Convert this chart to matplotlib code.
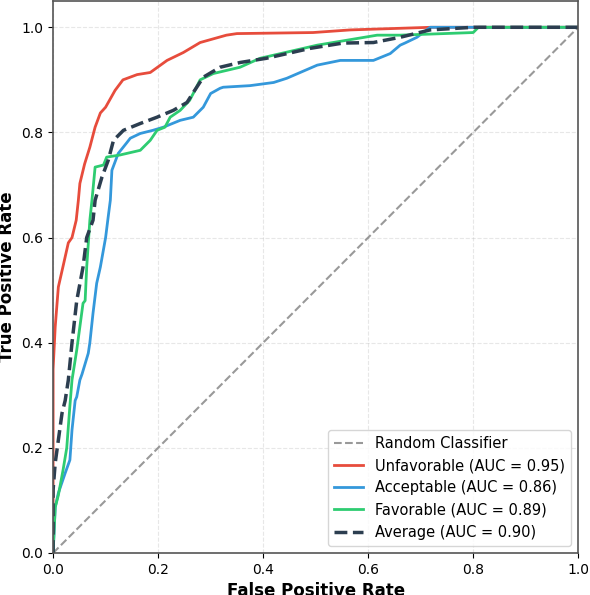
import matplotlib
matplotlib.use("Agg")
import matplotlib.pyplot as plt

# ROC curve points
fpr_unfav = [0, 0, 0.004, 0.01, 0.02, 0.029, 0.036, 0.044, 0.048, 0.051, 0.06, 0.07, 0.08, 0.09,
             0.10, 0.118, 0.133, 0.16, 0.185, 0.217, 0.248, 0.28, 0.33, 0.35, 0.495, 0.566, 0.72, 1.0]
tpr_unfav = [0, 0.35, 0.43, 0.506, 0.55, 0.59, 0.60, 0.633, 0.67, 0.703, 0.74, 0.772, 0.81, 0.837,
             0.848, 0.88, 0.90, 0.91, 0.914, 0.937, 0.952, 0.971, 0.985, 0.988, 0.99, 0.995, 1.0, 1.0]

fpr_accept = [0, 0.004, 0.01, 0.023, 0.032, 0.036, 0.042, 0.045, 0.051, 0.055, 0.067, 0.07, 0.076,
              0.083, 0.09, 0.1, 0.105, 0.109, 0.112, 0.124, 0.14, 0.147, 0.166, 0.19, 0.21, 0.242,
              0.267, 0.286, 0.3, 0.318, 0.324, 0.375, 0.42, 0.445, 0.503, 0.547, 0.61, 0.642, 0.661,
              0.67, 0.693, 0.718, 1.0]
tpr_accept = [0, 0.087, 0.114, 0.152, 0.177, 0.234, 0.29, 0.297, 0.329, 0.34, 0.38, 0.40, 0.456,
              0.513, 0.544, 0.60, 0.64, 0.671, 0.728, 0.76, 0.78, 0.789, 0.798, 0.804, 0.81, 0.823,
              0.829, 0.848, 0.874, 0.884, 0.886, 0.889, 0.895, 0.903, 0.928, 0.937, 0.937, 0.95, 0.966,
              0.97, 0.981, 1.0, 1.0]

fpr_fav = [0, 0.004, 0.01, 0.019, 0.026, 0.032, 0.036, 0.045, 0.057, 0.061, 0.064, 0.07, 0.074,
           0.08, 0.096, 0.102, 0.127, 0.166, 0.185, 0.198, 0.213, 0.223, 0.242, 0.26, 0.27, 0.28,
           0.305, 0.356, 0.394, 0.503, 0.617, 0.66, 0.80, 0.81, 1.0]
tpr_fav = [0, 0.087, 0.11, 0.158, 0.2, 0.28, 0.329, 0.386, 0.475, 0.48, 0.544, 0.633, 0.671,
           0.734, 0.738, 0.753, 0.757, 0.766, 0.785, 0.804, 0.81, 0.829, 0.842, 0.861, 0.88, 0.9,
           0.912, 0.924, 0.941, 0.966, 0.985, 0.985, 0.99, 1.0, 1.0]

fpr_avg = [0, 0, 0.004, 0.017, 0.023, 0.029, 0.036, 0.045, 0.057, 0.064, 0.076, 0.08, 0.093, 0.105,
           0.115, 0.134, 0.166, 0.198, 0.229, 0.255, 0.267, 0.286, 0.318, 0.356, 0.406, 0.49, 0.552,
           0.61, 0.661, 0.718, 0.8, 1.0]
tpr_avg = [0, 0.12, 0.171, 0.266, 0.29, 0.329, 0.40, 0.48, 0.544, 0.60, 0.633, 0.671, 0.715, 0.747,
           0.785, 0.804, 0.817, 0.829, 0.842, 0.857, 0.876, 0.905, 0.924, 0.933, 0.941, 0.96, 0.97,
           0.971, 0.981, 0.995, 1.0, 1.0]

auc = {'Unfavorable': 0.95, 'Acceptable': 0.86, 'Favorable': 0.89, 'Average': 0.90}

fig = plt.figure(figsize=(5.9, 5.95), dpi=100)
ax = fig.add_axes([0.09, 1 - 553 / 595, 0.89, 552 / 595])

ax.plot([0, 1], [0, 1], linestyle='--', color='gray', lw=1.5, alpha=0.8, label='Random Classifier')
ax.plot(fpr_unfav, tpr_unfav, color='#e74c3c', lw=2, label=f"Unfavorable (AUC = {auc['Unfavorable']:.2f})")
ax.plot(fpr_accept, tpr_accept, color='#3498db', lw=2, label=f"Acceptable (AUC = {auc['Acceptable']:.2f})")
ax.plot(fpr_fav, tpr_fav, color='#2ecc71', lw=2, label=f"Favorable (AUC = {auc['Favorable']:.2f})")
ax.plot(fpr_avg, tpr_avg, color='#2c3e50', lw=2.5, linestyle='--', label=f"Average (AUC = {auc['Average']:.2f})")

ax.set_xlim(0, 1)
ax.set_ylim(0, 1.05)
ax.set_xlabel('False Positive Rate', fontsize=12, fontweight='bold')
ax.set_ylabel('True Positive Rate', fontsize=12, fontweight='bold')
ax.grid(True, linestyle='--', alpha=0.3)
for sp in ax.spines.values():
    sp.set_color('#555555')
    sp.set_linewidth(1.2)
ax.legend(loc='lower right', fontsize=10.5)

fig.savefig('out.png', dpi=100)
